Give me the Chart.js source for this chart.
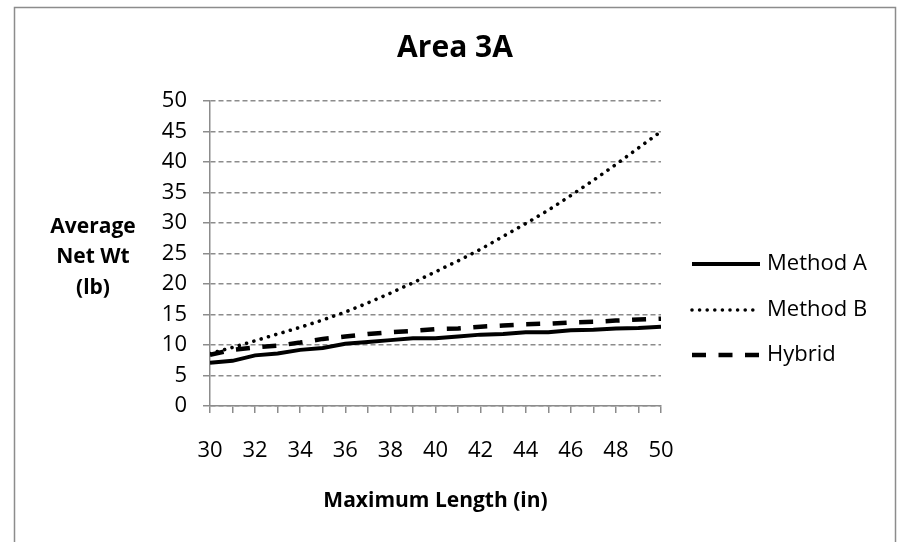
<!DOCTYPE html>
<html>
<head>
<meta charset="utf-8">
<title>Area 3A</title>
<script src="https://cdn.jsdelivr.net/npm/chart.js@4.4.1/dist/chart.umd.min.js"></script>
<style>
  html, body { margin: 0; padding: 0; background: #ffffff; }
  #wrap { width: 901px; height: 542px; }
</style>
</head>
<body>
<div id="wrap"><canvas id="chart" width="901" height="542"></canvas></div>
<script>
// Maximum length (in) for each point
const lengths = [30, 31, 32, 33, 34, 35, 36, 37, 38, 39, 40, 41, 42, 43, 44, 45, 46, 47, 48, 49, 50];
// Average net weight (lb) per method
const methodA = [7.1, 7.4, 8.3, 8.6, 9.2, 9.5, 10.2, 10.5, 10.8, 11.1, 11.1, 11.4, 11.7, 11.8, 12.1, 12.1, 12.4, 12.5, 12.7, 12.8, 13.0];
const methodB = [8.6, 9.6, 10.7, 11.8, 12.9, 14.1, 15.4, 16.9, 18.5, 20.2, 22.0, 23.8, 25.7, 27.8, 29.9, 32.1, 34.5, 37.0, 39.6, 42.3, 45.0];
const hybrid  = [8.4, 9.2, 9.6, 9.9, 10.4, 11.0, 11.4, 11.8, 12.1, 12.3, 12.6, 12.7, 13.0, 13.2, 13.4, 13.5, 13.7, 13.8, 14.0, 14.2, 14.3];
const seriesNames = ['Method A', 'Method B', 'Hybrid'];
const yAxisTitle = ['Average', 'Net Wt', '(lb)'];
const xAxisTitle = 'Maximum Length (in)';
const chartTitle = 'Area 3A';

const FONT = '"Open Sans", "Noto Sans", sans-serif';
const GRAY = '#8c8c8c';

const toPoints = vals => lengths.map((x, i) => ({ x: x, y: vals[i] }));

// Frame, chart title, multi-line vertical axis title and the side legend
const decorations = {
  id: 'decorations',
  beforeDraw(chart) {
    const ctx = chart.ctx;
    ctx.save();
    ctx.fillStyle = '#ffffff';
    ctx.fillRect(0, 0, chart.width, chart.height);
    ctx.strokeStyle = GRAY;
    ctx.lineWidth = 1.5;
    ctx.strokeRect(14.5, 7.5, 881, 600);
    ctx.restore();
  },
  afterDraw(chart) {
    const ctx = chart.ctx;
    ctx.save();
    ctx.fillStyle = '#000000';
    ctx.textAlign = 'center';
    ctx.textBaseline = 'middle';

    // chart title
    ctx.font = 'bold 30px ' + FONT;
    ctx.fillText(chartTitle, 455, 48);

    // vertical axis title, three stacked lines
    ctx.font = 'bold 21px ' + FONT;
    const titleRows = [227, 257.5, 288];
    yAxisTitle.forEach((t, i) => ctx.fillText(t, 93, titleRows[i]));

    // legend
    const rows = [264, 310, 355];
    chart.data.datasets.forEach((ds, i) => {
      const y = rows[i];
      ctx.save();
      ctx.strokeStyle = ds.borderColor;
      ctx.lineWidth = ds.borderWidth;
      ctx.lineCap = ds.borderCapStyle || 'butt';
      ctx.setLineDash(ds.borderDash || []);
      ctx.beginPath();
      ctx.moveTo(692, y);
      ctx.lineTo(760, y);
      ctx.stroke();
      ctx.restore();
      ctx.fillStyle = '#000000';
      ctx.font = '22px ' + FONT;
      ctx.textAlign = 'left';
      ctx.textBaseline = 'middle';
      ctx.fillText(ds.label, 767, y);
    });
    ctx.restore();
  }
};

new Chart(document.getElementById('chart'), {
  type: 'line',
  data: {
    datasets: [
      {
        label: seriesNames[0],
        data: toPoints(methodA),
        borderColor: '#000000',
        borderWidth: 4,
        borderCapStyle: 'butt',
        pointRadius: 0,
        tension: 0,
        fill: false
      },
      {
        label: seriesNames[1],
        data: toPoints(methodB),
        borderColor: '#000000',
        borderWidth: 3.6,
        borderDash: [0.001, 7.6],
        borderCapStyle: 'round',
        pointRadius: 0,
        tension: 0,
        fill: false
      },
      {
        label: seriesNames[2],
        data: toPoints(hybrid),
        borderColor: '#000000',
        borderWidth: 4.5,
        borderDash: [14, 12.5],
        borderCapStyle: 'butt',
        pointRadius: 0,
        tension: 0,
        fill: false
      }
    ]
  },
  options: {
    responsive: false,
    animation: false,
    devicePixelRatio: 1,
    layout: { padding: { left: 0, right: 240, top: 101, bottom: 0 } },
    plugins: {
      legend: { display: false },
      tooltip: { enabled: false },
      title: { display: false }
    },
    scales: {
      x: {
        type: 'linear',
        min: 30,
        max: 50,
        afterFit(scale) { scale.height = 136; },
        ticks: {
          stepSize: 1,
          autoSkip: false,
          maxRotation: 0,
          padding: 25,
          color: '#000000',
          font: { family: FONT, size: 22 },
          callback: v => (v % 2 === 0 ? String(v) : '')
        },
        grid: {
          drawOnChartArea: false,
          drawTicks: true,
          tickLength: 7,
          tickColor: GRAY,
          tickWidth: 1.5,
          color: GRAY,
          lineWidth: 1.5
        },
        border: { display: true, color: GRAY, width: 1.5 },
        title: {
          display: true,
          text: xAxisTitle,
          color: '#000000',
          font: { family: FONT, size: 21, weight: 'bold', lineHeight: 1.2 },
          padding: { top: 0, bottom: 28 }
        }
      },
      y: {
        min: 0,
        max: 50,
        afterFit(scale) { scale.width = 210; },
        ticks: {
          stepSize: 5,
          padding: 16,
          color: '#000000',
          font: { family: FONT, size: 22 }
        },
        grid: {
          color: GRAY,
          lineWidth: 1.5,
          tickLength: 7,
          tickColor: GRAY,
          tickWidth: 1.5,
          tickBorderDash: []
        },
        border: { display: true, color: GRAY, width: 1.5, dash: [5, 3] }
      }
    }
  },
  plugins: [decorations]
});
</script>
</body>
</html>
